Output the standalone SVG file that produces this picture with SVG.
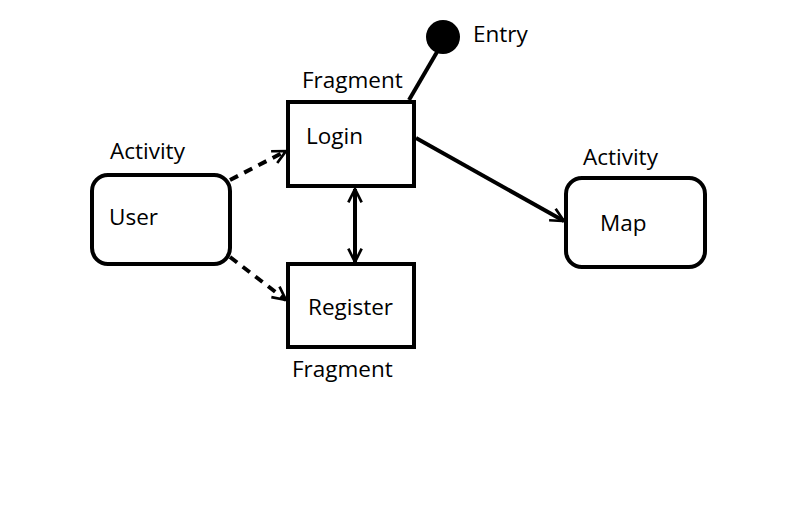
<svg xmlns="http://www.w3.org/2000/svg" width="808" height="517" viewBox="0 0 808 517">
<style>
.box{fill:#fff;stroke:#000;stroke-width:4}
.t{font-family:"Open Sans","Liberation Sans",sans-serif;font-size:22.5px;fill:#000}
.c{stroke:#000;stroke-width:4;fill:none}
.d{stroke-dasharray:9,7}
</style>
<defs>
<marker id="a" viewBox="0 0 12 12" refX="11" refY="6" markerWidth="4" markerHeight="4" orient="auto-start-reverse" markerUnits="strokeWidth">
<path d="M1,1 L11,6 L1,11" fill="none" stroke="#000" stroke-width="2"/>
</marker>
</defs>
<rect width="808" height="517" fill="#fff"/>
<g id="connectors">
<line class="c d" x1="230" y1="180" x2="286" y2="151" marker-end="url(#a)"/>
<line class="c d" x1="230" y1="257" x2="286" y2="300" marker-end="url(#a)"/>
<line class="c" x1="355" y1="189" x2="355" y2="262" marker-start="url(#a)" marker-end="url(#a)"/>
<line class="c" x1="416" y1="138" x2="564" y2="221" marker-end="url(#a)"/>
<line class="c" x1="409" y1="100" x2="437" y2="52"/>
</g>
<g id="user">
<rect class="box" x="92" y="175" width="138" height="89" rx="16"/>
<text class="t" x="110" y="159">Activity</text>
<text class="t" x="109" y="225">User</text>
</g>
<g id="login">
<rect class="box" x="288" y="102" width="126" height="84"/>
<text class="t" x="302" y="88">Fragment</text>
<text class="t" x="306" y="144">Login</text>
</g>
<g id="register">
<rect class="box" x="288" y="264" width="126" height="83"/>
<text class="t" x="308" y="315">Register</text>
<text class="t" x="292" y="377">Fragment</text>
</g>
<g id="map">
<rect class="box" x="566" y="178" width="139" height="89" rx="16"/>
<text class="t" x="583" y="165">Activity</text>
<text class="t" x="600" y="231">Map</text>
</g>
<g id="entry">
<circle cx="443" cy="37" r="17" fill="#000"/>
<text class="t" x="473" y="42">Entry</text>
</g>
</svg>
